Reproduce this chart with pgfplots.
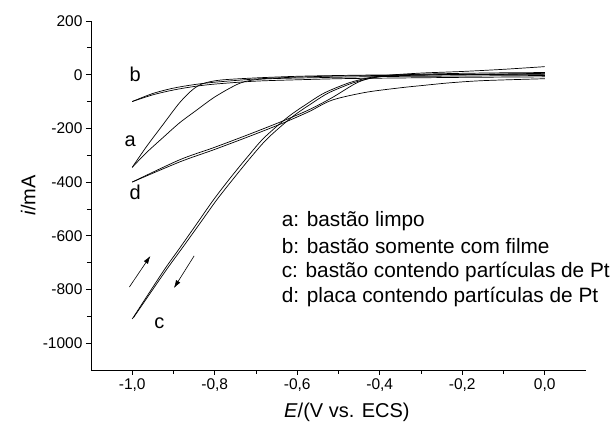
\documentclass[border=0pt]{standalone}
\usepackage{pgfplots}
\pgfplotsset{compat=1.18}
\usepackage{fontspec}
\setmainfont{Liberation Sans}
\usetikzlibrary{arrows.meta}

\begin{document}
\begin{tikzpicture}
\pgfplotsset{pl/.style={black, solid, line width=0.7pt, smooth, no markers}}
\begin{axis}[
 name=ax,
 at={(0,0)}, anchor=south west,
 scale only axis,
 width=495pt, height=349pt,
 xmin=-1.1, xmax=0.1, ymin=-1100, ymax=200,
 axis lines=left,
 axis line style={-, line width=0.8pt},
 xtick={-1,-0.8,-0.6,-0.4,-0.2,0},
 minor x tick num=1,
 ytick={-1000,-800,-600,-400,-200,0,200},
 minor y tick num=1,
 tick align=outside,
 major tick length=5pt, minor tick length=4pt,
 every tick/.style={black, line width=0.8pt},
 tick label style={font=\fontsize{15.5}{18}\selectfont},
 /pgf/number format/assume math mode=true,
 xticklabel style={/pgf/number format/.cd, fixed, fixed zerofill, precision=1, use comma},
 yticklabel style={/pgf/number format/.cd, fixed, 1000 sep={}},
 xlabel={\textit{E}/(V vs. ECS)},
 ylabel={\textit{i}/mA},
 every axis x label/.style={at={(axis description cs:0.517,-0.12)}, anchor=center, font=\fontsize{20}{24}\selectfont},
 every axis y label/.style={at={(axis description cs:-0.127,0.5)}, anchor=center, rotate=90, font=\fontsize{20}{24}\selectfont},
 clip=false,
]
% b
\addplot[pl] coordinates {(-1.0,-100) (-0.95,-70) (-0.9,-50) (-0.85,-37) (-0.8,-28) (-0.7,-16) (-0.6,-9) (-0.5,-5) (-0.4,-3) (-0.3,-1) (-0.2,0) (0,3)};
\addplot[pl] coordinates {(0,-8) (-0.2,-10) (-0.4,-13) (-0.5,-15) (-0.6,-19) (-0.7,-24) (-0.8,-35) (-0.85,-44) (-0.9,-57) (-0.95,-75) (-1.0,-100)};
% a
\addplot[pl] coordinates {(-1.0,-345) (-0.966,-269) (-0.926,-187) (-0.885,-104) (-0.853,-55) (-0.828,-33) (-0.786,-20) (-0.7,-12) (-0.6,-6) (-0.5,-3) (-0.4,-1) (-0.2,1) (0,5)};
\addplot[pl] coordinates {(0,-3) (-0.2,-5) (-0.4,-7) (-0.55,-11) (-0.681,-16) (-0.730,-27) (-0.762,-49) (-0.803,-86) (-0.843,-131) (-0.885,-179) (-0.926,-235) (-0.966,-291) (-1.0,-345)};
% c
\addplot[pl] coordinates {(-1.0,-910) (-0.926,-735) (-0.885,-646) (-0.843,-554) (-0.803,-466) (-0.762,-384) (-0.72,-305) (-0.681,-236) (-0.622,-157) (-0.572,-104) (-0.533,-67) (-0.474,-30) (-0.425,-11) (-0.38,-2) (-0.3,6) (-0.2,12) (-0.1,20) (0.0,30)};
\addplot[pl] coordinates {(0,8) (-0.1,7) (-0.2,5) (-0.3,2) (-0.37,-3) (-0.415,-11) (-0.464,-30) (-0.523,-67) (-0.562,-104) (-0.612,-157) (-0.671,-236) (-0.711,-305) (-0.753,-384) (-0.795,-466) (-0.836,-554) (-0.879,-646) (-0.921,-735) (-0.997,-905)};
% d
\addplot[pl] coordinates {(-1.0,-400) (-0.885,-317) (-0.803,-272) (-0.72,-224) (-0.639,-175) (-0.572,-131) (-0.516,-86) (-0.459,-33) (-0.425,-14) (-0.38,-5) (-0.3,-2) (-0.2,0) (0,2)};
\addplot[pl] coordinates {(0,-15) (-0.147,-22) (-0.228,-30) (-0.295,-40) (-0.351,-49) (-0.435,-66) (-0.516,-95) (-0.572,-138) (-0.639,-183) (-0.72,-232) (-0.803,-280) (-0.885,-325) (-1.0,-400)};

\node[font=\fontsize{20}{24}\selectfont] at (axis cs:-0.993,0) {b};
\node[font=\fontsize{20}{24}\selectfont] at (axis cs:-1.005,-246) {a};
\node[font=\fontsize{20}{24}\selectfont] at (axis cs:-0.993,-437) {d};
\node[font=\fontsize{20}{24}\selectfont] at (axis cs:-0.934,-925) {c};

\draw[-{Latex[length=8pt,width=5pt]}, line width=0.6pt] (axis cs:-1.007,-791) -- (axis cs:-0.956,-675);
\draw[-{Latex[length=8pt,width=5pt]}, line width=0.6pt] (axis cs:-0.850,-675) -- (axis cs:-0.899,-795);

\node[anchor=west, font=\fontsize{20.8}{24}\selectfont, inner sep=0pt] at (axis cs:-0.638,-545) {a: bastão limpo};
\node[anchor=west, font=\fontsize{20.8}{24}\selectfont, inner sep=0pt] at (axis cs:-0.638,-638) {b: bastão somente com filme};
\node[anchor=west, font=\fontsize{20.8}{24}\selectfont, inner sep=0pt] at (axis cs:-0.638,-735) {c: bastão contendo partículas de Pt};
\node[anchor=west, font=\fontsize{20.8}{24}\selectfont, inner sep=0pt] at (axis cs:-0.638,-828) {d: placa contendo partículas de Pt};
\end{axis}
\pgfresetboundingbox
\path (-91pt,-57pt) rectangle (524pt,370pt);
\end{tikzpicture}
\end{document}
